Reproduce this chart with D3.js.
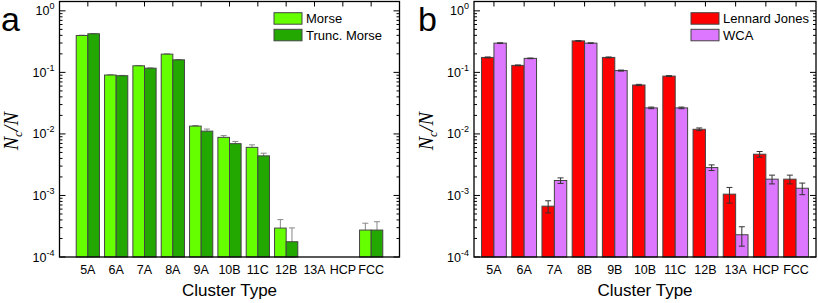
<!DOCTYPE html>
<html>
<head>
<meta charset="utf-8">
<script src="https://cdn.jsdelivr.net/npm/d3@7"></script>
<style>
    body { margin: 0; background: #fff; }
    svg { display: block; font-family: "Liberation Sans", Arial, sans-serif; }
</style>
</head>
<body>
<svg id="chart" width="818" height="303"></svg>
<script>
// panel a data
var categoriesA = ["5A", "6A", "7A", "8A", "9A", "10B", "11C", "12B", "13A", "HCP", "FCC"];
var morse = [0.398, 0.0906, 0.128, 0.198, 0.0134, 0.0088, 0.00605, 0.000295, null, null, 0.000274];
var morseErr = [0.004, 0.001, 0.0015, 0.002, 0.0003, 0.0006, 0.0006, 0.00011, null, null, 0.00008];
var truncMorse = [0.424, 0.0883, 0.117, 0.160, 0.0111, 0.00695, 0.0044, 0.000177, null, null, 0.000274];
var truncMorseErr = [0.004, 0.001, 0.0012, 0.002, 0.0009, 0.0006, 0.00046, 0.00012, null, null, 0.0001];

// panel b data
var categoriesB = ["5A", "6A", "7A", "8B", "9B", "10B", "11C", "12B", "13A", "HCP", "FCC"];
var lennardJones = [0.175, 0.13, 0.00067, 0.325, 0.175, 0.0624, 0.087, 0.0119, 0.00105, 0.00468, 0.00184];
var lennardJonesErr = [0.003, 0.002, 0.00015, 0.004, 0.003, 0.0015, 0.0015, 0.0006, 0.0003, 0.0005, 0.0003];
var wca = [0.299, 0.169, 0.00175, 0.299, 0.107, 0.0265, 0.0265, 0.00284, 0.00023, 0.00184, 0.00131];
var wcaErr = [0.003, 0.002, 0.00018, 0.003, 0.002, 0.0008, 0.0008, 0.0003, 0.00008, 0.0003, 0.00028];

var yTickExps = [0, -1, -2, -3, -4];

var svg = d3.select("#chart");

function drawPanel(cfg) {
    var g = svg.append("g");
    var x = d3.scaleLinear().domain(cfg.xDomain).range(cfg.xRange);
    var y = d3.scaleLog().domain([1e-4, Math.pow(10, 0.152)]).range([257, 1.5]);
    var unit = x(1) - x(0);
    var bw = unit * 0.41;
    var x0 = cfg.xRange[0], x1 = cfg.xRange[1], y0 = y.range()[0], y1 = y.range()[1];

    var series = [
        { values: cfg.s1, errs: cfg.e1, color: cfg.c1, offset: -bw },
        { values: cfg.s2, errs: cfg.e2, color: cfg.c2, offset: 0 }
    ];

    function drawErrors() {
        series.forEach(function (s) {
            var pts = s.values.map(function (v, i) {
                return { i: i, v: v, e: s.errs[i] };
            }).filter(function (d) { return d.v != null; });
            var eg = g.append("g").attr("stroke", cfg.errColor).attr("stroke-width", 1);
            pts.forEach(function (d) {
                var cx = x(d.i + 1) + s.offset + bw / 2;
                var top = y(d.v + d.e), bot = y(Math.max(d.v - d.e, 1e-4));
                eg.append("line").attr("x1", cx).attr("x2", cx).attr("y1", top).attr("y2", bot);
                eg.append("line").attr("x1", cx - 3).attr("x2", cx + 3).attr("y1", top).attr("y2", top);
                eg.append("line").attr("x1", cx - 3).attr("x2", cx + 3).attr("y1", bot).attr("y2", bot);
            });
        });
    }

    if (!cfg.errOnTop) drawErrors();

    series.forEach(function (s) {
        g.append("g").selectAll("rect")
            .data(s.values.map(function (v, i) { return { i: i, v: v }; })
                .filter(function (d) { return d.v != null; }))
            .join("rect")
            .attr("x", function (d) { return x(d.i + 1) + s.offset; })
            .attr("width", bw)
            .attr("y", function (d) { return y(d.v); })
            .attr("height", function (d) { return y0 - y(d.v); })
            .attr("fill", s.color)
            .attr("stroke", "#444")
            .attr("stroke-width", 1);
    });

    if (cfg.errOnTop) drawErrors();

    // frame
    g.append("rect").attr("x", x0).attr("y", y1).attr("width", x1 - x0).attr("height", y0 - y1)
        .attr("fill", "none").attr("stroke", "#000").attr("stroke-width", 1.3);

    // top ticks at category positions
    g.append("g").selectAll("line").data(d3.range(1, 12)).join("line")
        .attr("x1", function (d) { return x(d); }).attr("x2", function (d) { return x(d); })
        .attr("y1", y1).attr("y2", y1 + 5)
        .attr("stroke", "#000").attr("stroke-width", 1);

    // log ticks on left and right
    var minor = [];
    for (var e = -4; e <= 0; e++) {
        for (var m = 2; m <= 9; m++) {
            var v = m * Math.pow(10, e);
            if (y(v) >= y1) minor.push(v);
        }
    }
    var majors = yTickExps.map(function (e) { return Math.pow(10, e); });
    [x0, x1].forEach(function (ax) {
        var dir = ax === x0 ? 1 : -1;
        g.append("g").selectAll("line").data(majors).join("line")
            .attr("x1", ax).attr("x2", ax + dir * 6)
            .attr("y1", function (d) { return y(d); }).attr("y2", function (d) { return y(d); })
            .attr("stroke", "#000").attr("stroke-width", 1);
        g.append("g").selectAll("line").data(minor).join("line")
            .attr("x1", ax).attr("x2", ax + dir * 3)
            .attr("y1", function (d) { return y(d); }).attr("y2", function (d) { return y(d); })
            .attr("stroke", "#000").attr("stroke-width", 1);
    });

    // y tick labels
    yTickExps.forEach(function (e) {
        var t = g.append("text")
            .attr("x", x0 - 5).attr("y", y(Math.pow(10, e)) + 4.5)
            .attr("text-anchor", "end").attr("font-size", 12.5).attr("fill", "#000");
        t.append("tspan").text("10");
        t.append("tspan").attr("font-size", 9).attr("dy", -6).text(String(e));
    });

    // x tick labels
    g.append("g").selectAll("text").data(cfg.categories).join("text")
        .attr("x", function (d, i) { return x(i + 1); })
        .attr("y", 273.5)
        .attr("text-anchor", "middle").attr("font-size", 12.5)
        .text(function (d) { return d; });

    // axis titles
    g.append("text").attr("x", (x0 + x1) / 2).attr("y", 296)
        .attr("text-anchor", "middle").attr("font-size", 17).text("Cluster Type");

    var yt = g.append("text")
        .attr("transform", "translate(" + (cfg.yTitleX) + "," + ((y0 + y1) / 2 + 2) + ") rotate(-90)")
        .attr("text-anchor", "middle")
        .attr("font-family", "'Liberation Serif', 'Times New Roman', serif")
        .attr("font-style", "italic").attr("font-size", 20);
    yt.append("tspan").text("N");
    yt.append("tspan").attr("font-size", 13).attr("dy", 4).text("c");
    yt.append("tspan").attr("dy", -4).text("/N");

    // panel letter
    g.append("text").attr("x", cfg.letterX).attr("y", 31)
        .attr("font-size", 34).text(cfg.letter);

    // legend
    var lg = g.append("g");
    [cfg.l1, cfg.l2].forEach(function (label, k) {
        var ly = 12.7 + k * 16.6;
        lg.append("rect").attr("x", cfg.legendX).attr("y", ly).attr("width", 28).attr("height", 11.5)
            .attr("fill", k === 0 ? cfg.c1 : cfg.c2).attr("stroke", "#444").attr("stroke-width", 1);
        lg.append("text").attr("x", cfg.legendX + 32).attr("y", ly + 10.5)
            .attr("font-size", 13).text(label);
    });
}

drawPanel({
    categories: categoriesA,
    xDomain: [0, 12], xRange: [59.5, 399.5],
    s1: morse, e1: morseErr, s2: truncMorse, e2: truncMorseErr,
    c1: "#66ff00", c2: "#22a800",
    l1: "Morse", l2: "Trunc. Morse",
    errColor: "#888", errOnTop: false,
    legendX: 274, letter: "a", letterX: 1, yTitleX: 18
});

drawPanel({
    categories: categoriesB,
    xDomain: [0.34, 11.66], xRange: [474, 816],
    s1: lennardJones, e1: lennardJonesErr, s2: wca, e2: wcaErr,
    c1: "#ff0000", c2: "#dd77ff",
    l1: "Lennard Jones", l2: "WCA",
    errColor: "#333", errOnTop: true,
    legendX: 691, letter: "b", letterX: 418, yTitleX: 433
});
</script>
</body>
</html>
